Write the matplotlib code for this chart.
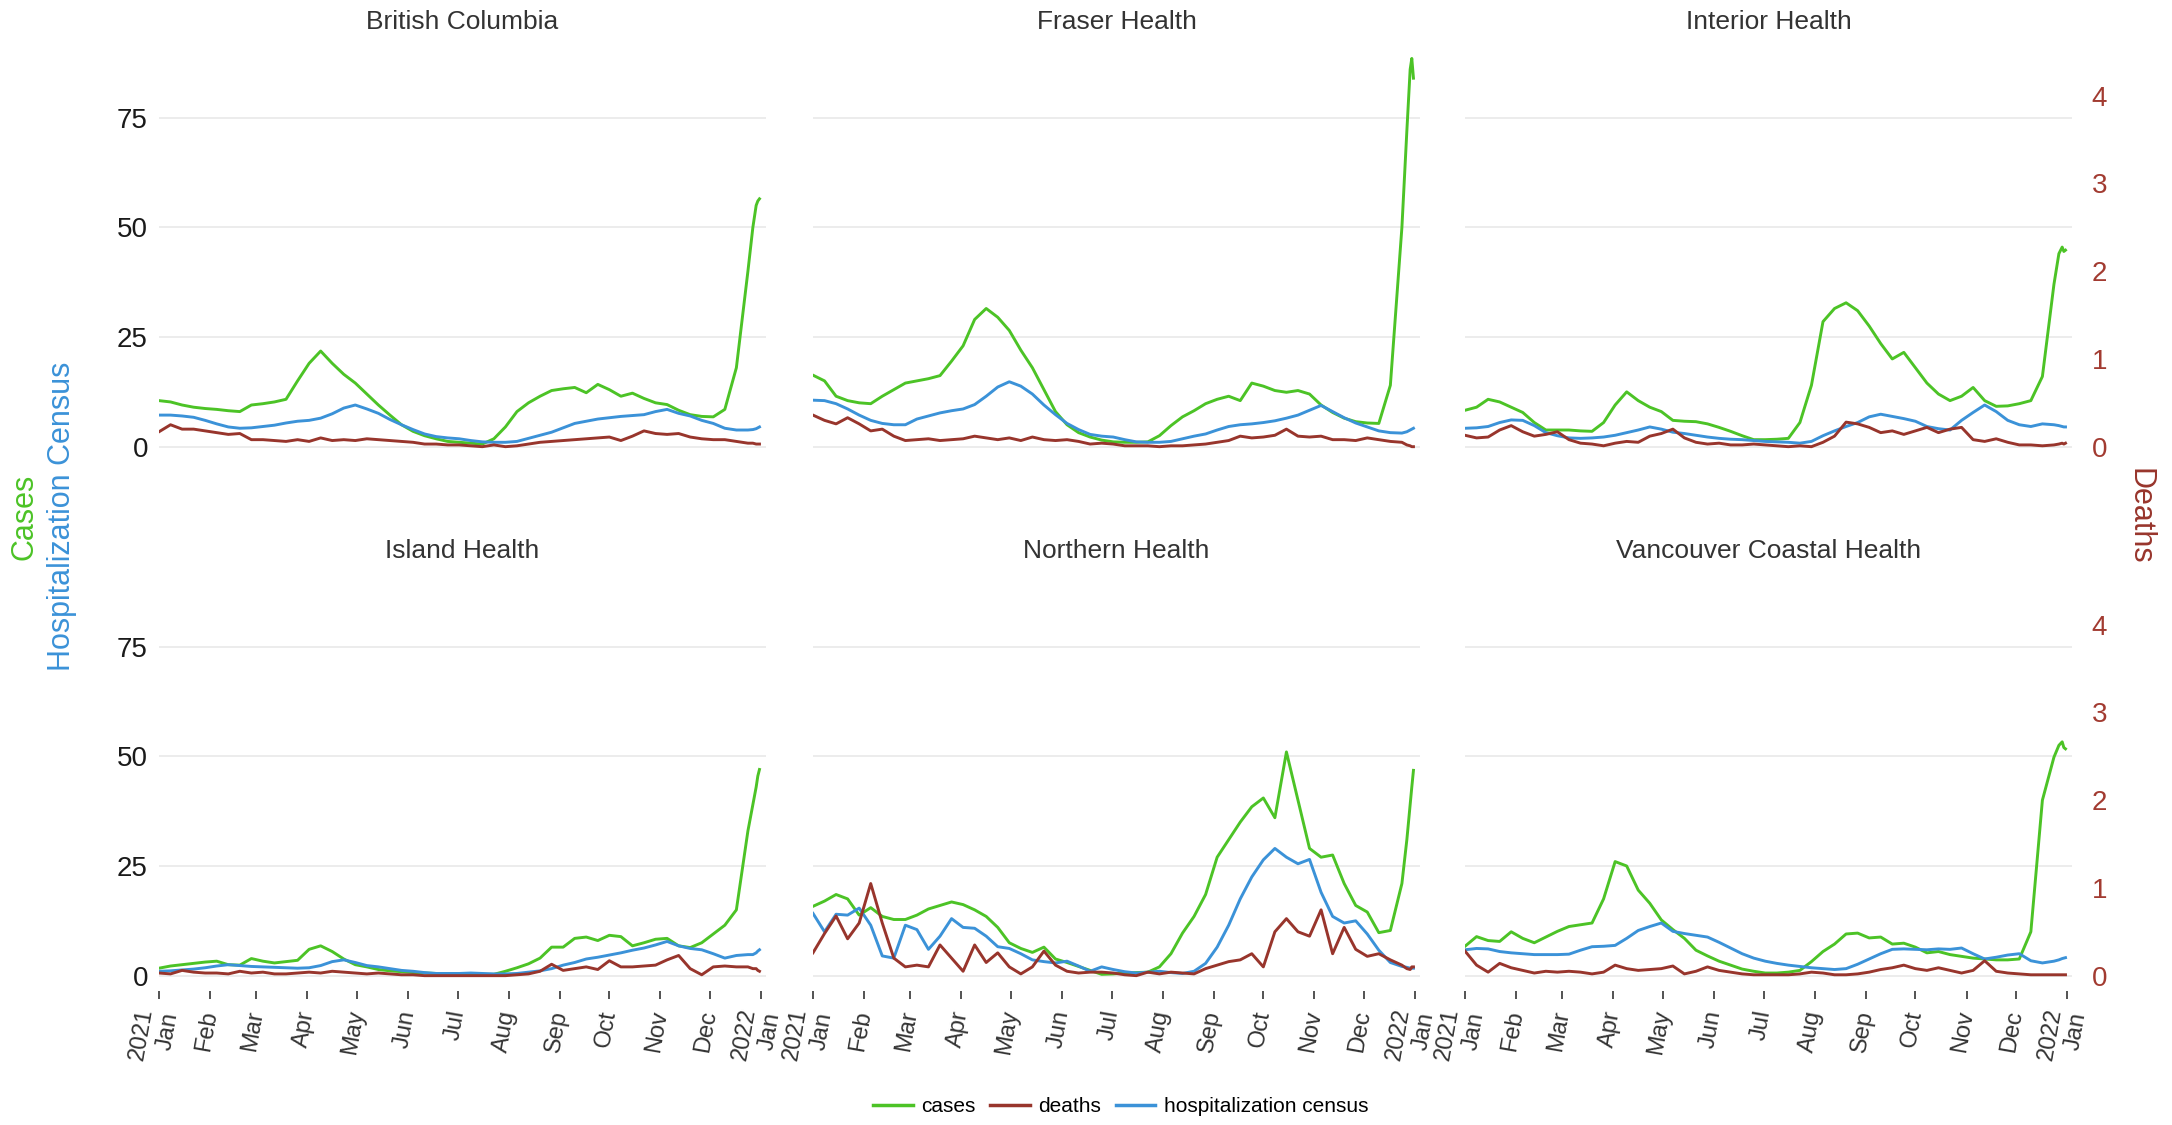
import matplotlib
matplotlib.use("Agg")
import matplotlib.pyplot as plt
import matplotlib.dates as mdates
from matplotlib.lines import Line2D
import numpy as np
import pandas as pd

plt.rcParams['font.family'] = ['Liberation Sans', 'DejaVu Sans']

# weekly points up to Dec 24, then a few daily points for the year-end surge
dates = pd.date_range("2021-01-01", "2021-12-24", freq="7D").append(
    pd.to_datetime(["2021-12-27", "2021-12-29", "2021-12-30", "2021-12-31"]))

regions = ["British Columbia", "Fraser Health", "Interior Health",
           "Island Health", "Northern Health", "Vancouver Coastal Health"]

bc_cases = [10.5, 10.2, 9.5, 9.0, 8.7, 8.5, 8.2,
            8.0, 9.5, 9.8, 10.2, 10.8, 15.0, 19.0,
            21.8, 19.0, 16.5, 14.5, 12.0, 9.5, 7.2,
            5.0, 3.5, 2.5, 1.8, 1.2, 1.0, 0.8,
            0.6, 1.8, 4.5, 8.0, 10.0, 11.5, 12.8,
            13.2, 13.5, 12.3, 14.2, 13.0, 11.5, 12.2,
            11.0, 10.0, 9.6, 8.3, 7.3, 6.9, 6.8,
            8.5, 18.0, 40.0, 50.0, 55.0, 56.0, 56.5]
bc_hosp = [7.2, 7.2, 7.0, 6.7, 6.0, 5.2, 4.5,
           4.2, 4.3, 4.6, 4.9, 5.4, 5.8, 6.0,
           6.5, 7.5, 8.8, 9.5, 8.6, 7.6, 6.2,
           5.0, 3.9, 2.9, 2.3, 2.0, 1.8, 1.4,
           1.1, 1.0, 1.0, 1.2, 1.9, 2.6, 3.3,
           4.3, 5.3, 5.8, 6.3, 6.6, 6.9, 7.1,
           7.3, 8.0, 8.5, 7.6, 7.0, 6.0, 5.3,
           4.2, 3.8, 3.8, 3.9, 4.1, 4.3, 4.5]
bc_deaths = [0.17, 0.25, 0.2, 0.2, 0.18, 0.16, 0.14,
             0.15, 0.08, 0.08, 0.07, 0.06, 0.08, 0.06,
             0.1, 0.07, 0.08, 0.07, 0.09, 0.08, 0.07,
             0.06, 0.05, 0.03, 0.03, 0.02, 0.02, 0.01,
             0.0, 0.02, 0.0, 0.01, 0.03, 0.05, 0.06,
             0.07, 0.08, 0.09, 0.1, 0.11, 0.07, 0.12,
             0.18, 0.15, 0.14, 0.15, 0.11, 0.09, 0.08,
             0.08, 0.06, 0.04, 0.04, 0.03, 0.03, 0.03]

fh_cases = [16.3, 15.0, 11.5, 10.5, 10.0, 9.8, 11.5,
            13.0, 14.5, 15.0, 15.5, 16.2, 19.5, 23.0,
            29.0, 31.5, 29.5, 26.5, 22.0, 18.0, 13.0,
            8.0, 5.0, 3.2, 2.2, 1.5, 1.1, 1.0,
            1.0, 1.1, 2.5, 4.8, 6.8, 8.2, 9.8,
            10.8, 11.5, 10.5, 14.5, 13.8, 12.8, 12.4,
            12.8, 12.0, 9.5, 7.8, 6.5, 5.7, 5.4,
            5.3, 14.0, 50.0, 72.0, 86.0, 88.5, 84.0]
fh_hosp = [10.6, 10.5, 9.8, 8.6, 7.2, 6.0, 5.3,
           5.0, 5.0, 6.3, 7.0, 7.7, 8.2, 8.6,
           9.6, 11.5, 13.6, 14.8, 13.8, 12.0, 9.5,
           7.3, 5.3, 3.9, 2.8, 2.4, 2.2, 1.6,
           1.1, 1.0, 1.0, 1.2, 1.8, 2.4, 2.9,
           3.8, 4.6, 5.0, 5.2, 5.5, 5.9, 6.5,
           7.2, 8.3, 9.4, 8.0, 6.6, 5.4, 4.5,
           3.6, 3.2, 3.1, 3.4, 3.8, 4.0, 4.2]
fh_deaths = [0.36, 0.3, 0.26, 0.33, 0.26, 0.18, 0.2,
             0.12, 0.07, 0.08, 0.09, 0.07, 0.08, 0.09,
             0.12, 0.1, 0.08, 0.1, 0.07, 0.11, 0.08,
             0.07, 0.08, 0.06, 0.03, 0.04, 0.03, 0.01,
             0.01, 0.01, 0.0, 0.01, 0.01, 0.02, 0.03,
             0.05, 0.07, 0.12, 0.1, 0.11, 0.13, 0.2,
             0.12, 0.11, 0.12, 0.08, 0.08, 0.07, 0.1,
             0.08, 0.06, 0.05, 0.02, 0.01, 0.0, 0.0]

ih_cases = [8.3, 9.0, 10.8, 10.2, 9.0, 7.8, 5.5,
            3.8, 3.8, 3.8, 3.6, 3.5, 5.5, 9.5,
            12.5, 10.5, 9.0, 8.0, 6.0, 5.8, 5.7,
            5.2, 4.4, 3.5, 2.5, 1.6, 1.6, 1.7,
            1.9, 5.5, 14.0, 28.5, 31.5, 32.8, 31.0,
            27.5, 23.5, 20.0, 21.5, 18.0, 14.5, 12.0,
            10.5, 11.5, 13.5, 10.5, 9.2, 9.3, 9.8,
            10.5, 16.0, 37.0, 44.0, 45.5, 44.5, 44.8]
ih_hosp = [4.2, 4.3, 4.6, 5.5, 6.1, 6.0, 4.8,
           3.2, 2.5, 2.0, 1.9, 2.0, 2.2, 2.6,
           3.2, 3.8, 4.5, 4.0, 3.3, 3.0, 2.6,
           2.2, 1.9, 1.7, 1.6, 1.4, 1.2, 1.1,
           1.0, 0.8, 1.2, 2.5, 3.6, 4.6, 5.5,
           6.8, 7.4, 6.9, 6.4, 5.8, 4.6, 4.1,
           3.8, 6.0, 7.8, 9.5, 8.0, 6.0, 5.0,
           4.6, 5.2, 5.0, 4.8, 4.6, 4.5, 4.5]
ih_deaths = [0.13, 0.1, 0.11, 0.19, 0.24, 0.17, 0.12,
             0.14, 0.17, 0.08, 0.04, 0.03, 0.01, 0.04,
             0.06, 0.05, 0.12, 0.15, 0.2, 0.1, 0.05,
             0.03, 0.04, 0.02, 0.02, 0.03, 0.02, 0.01,
             0.0, 0.01, 0.0, 0.05, 0.12, 0.28, 0.26,
             0.22, 0.16, 0.18, 0.14, 0.18, 0.22, 0.16,
             0.2, 0.22, 0.08, 0.06, 0.09, 0.05, 0.02,
             0.02, 0.01, 0.02, 0.03, 0.04, 0.03, 0.04]

is_cases = [1.7, 2.2, 2.5, 2.8, 3.1, 3.3, 2.5,
            2.4, 3.9, 3.3, 2.9, 3.2, 3.5, 6.0,
            6.8, 5.5, 3.8, 2.5, 2.0, 1.4, 1.1,
            0.9, 0.7, 0.6, 0.5, 0.5, 0.4, 0.3,
            0.3, 0.3, 1.0, 1.8, 2.7, 4.0, 6.5,
            6.5, 8.5, 8.8, 8.0, 9.2, 8.9, 6.8,
            7.5, 8.3, 8.5, 6.8, 6.4, 7.5, 9.5,
            11.5, 15.0, 33.0, 39.0, 43.0, 45.5, 47.0]
is_hosp = [1.0, 1.1, 1.3, 1.5, 1.8, 2.2, 2.5,
           2.3, 2.1, 2.0, 1.9, 1.8, 1.7, 1.8,
           2.3, 3.2, 3.6, 3.0, 2.3, 2.0, 1.6,
           1.2, 1.0, 0.7, 0.5, 0.5, 0.5, 0.6,
           0.5, 0.4, 0.4, 0.5, 0.8, 1.1, 1.6,
           2.4, 3.0, 3.8, 4.2, 4.7, 5.2, 5.8,
           6.3, 7.0, 7.8, 6.8, 6.2, 5.9, 5.0,
           4.0, 4.6, 4.8, 4.8, 5.2, 5.6, 5.9]
is_deaths = [0.03, 0.02, 0.06, 0.04, 0.03, 0.03, 0.02,
             0.05, 0.03, 0.04, 0.02, 0.02, 0.03, 0.04,
             0.03, 0.05, 0.04, 0.03, 0.02, 0.03, 0.02,
             0.01, 0.01, 0.0, 0.0, 0.0, 0.0, 0.0,
             0.0, 0.0, 0.0, 0.01, 0.02, 0.05, 0.13,
             0.06, 0.08, 0.1, 0.07, 0.17, 0.1, 0.1,
             0.11, 0.12, 0.18, 0.23, 0.08, 0.01, 0.1,
             0.11, 0.1, 0.1, 0.08, 0.08, 0.06, 0.05]

nh_cases = [15.8, 17.0, 18.5, 17.5, 13.8, 15.5, 13.5,
            12.8, 12.8, 13.8, 15.2, 16.0, 16.8, 16.2,
            15.0, 13.5, 11.0, 7.5, 6.2, 5.3, 6.5,
            3.8, 3.0, 2.1, 1.2, 0.3, 0.4, 0.6,
            0.7, 0.8, 2.0, 5.0, 9.7, 13.5, 18.5,
            27.0, 31.0, 35.0, 38.5, 40.5, 36.0, 51.0,
            40.0, 29.0, 27.0, 27.5, 21.0, 16.0, 14.5,
            9.8, 10.3, 21.0, 31.0, 39.0, 43.0, 46.8]
nh_hosp = [14.2, 10.0, 14.0, 13.8, 15.4, 11.5, 4.5,
           4.0, 11.5, 10.5, 6.0, 9.0, 13.0, 11.0,
           10.8, 9.0, 6.6, 6.2, 5.0, 3.6, 3.2,
           2.9, 3.3, 2.2, 1.0, 2.0, 1.4, 0.9,
           0.6, 0.8, 1.0, 0.7, 0.5, 1.0, 2.8,
           6.5, 11.5, 17.5, 22.5, 26.4, 29.0, 27.0,
           25.5, 26.5, 19.0, 13.5, 12.0, 12.5, 9.5,
           5.8, 3.0, 2.1, 1.9, 1.7, 1.7, 1.7]
nh_deaths = [0.26, 0.48, 0.68, 0.42, 0.6, 1.05, 0.6,
             0.2, 0.1, 0.12, 0.1, 0.35, 0.2, 0.05,
             0.35, 0.15, 0.26, 0.1, 0.02, 0.1, 0.28,
             0.12, 0.05, 0.03, 0.04, 0.04, 0.03, 0.01,
             0.0, 0.04, 0.02, 0.04, 0.03, 0.02, 0.08,
             0.12, 0.16, 0.18, 0.25, 0.1, 0.5, 0.65,
             0.5, 0.45, 0.75, 0.25, 0.55, 0.3, 0.22,
             0.25, 0.18, 0.12, 0.08, 0.07, 0.1, 0.1]

vch_cases = [6.7, 8.9, 8.0, 7.8, 10.0, 8.5, 7.5,
             8.8, 10.1, 11.2, 11.6, 12.0, 17.5, 26.0,
             25.0, 19.5, 16.5, 12.7, 10.5, 8.5, 5.8,
             4.5, 3.3, 2.4, 1.5, 1.0, 0.6, 0.6,
             0.8, 1.2, 3.2, 5.5, 7.2, 9.5, 9.7,
             8.6, 8.8, 7.2, 7.4, 6.5, 5.2, 5.5,
             4.8, 4.4, 4.0, 3.8, 3.6, 3.6, 3.8,
             10.0, 40.0, 49.8, 52.5, 53.3, 52.0, 51.7]
vch_hosp = [5.9, 6.2, 6.1, 5.5, 5.2, 5.0, 4.8,
            4.8, 4.8, 4.9, 5.8, 6.6, 6.7, 6.9,
            8.5, 10.3, 11.2, 12.0, 10.1, 9.6, 9.2,
            8.8, 7.6, 6.3, 5.0, 4.0, 3.3, 2.8,
            2.4, 2.1, 1.8, 1.6, 1.4, 1.6, 2.6,
            3.8, 5.0, 6.0, 6.1, 6.0, 5.9, 6.1,
            6.0, 6.3, 5.0, 3.8, 4.2, 4.7, 5.0,
            3.4, 2.9, 3.3, 3.6, 3.9, 4.0, 4.1]
vch_deaths = [0.28, 0.12, 0.04, 0.14, 0.09, 0.06, 0.03,
              0.05, 0.04, 0.05, 0.04, 0.02, 0.04, 0.12,
              0.08, 0.06, 0.07, 0.08, 0.11, 0.02, 0.05,
              0.1, 0.06, 0.04, 0.02, 0.01, 0.01, 0.01,
              0.01, 0.02, 0.04, 0.03, 0.01, 0.01, 0.02,
              0.04, 0.07, 0.09, 0.12, 0.08, 0.06, 0.09,
              0.06, 0.03, 0.06, 0.17, 0.05, 0.03, 0.02,
              0.01, 0.01, 0.01, 0.01, 0.01, 0.01, 0.01]

cases = [bc_cases, fh_cases, ih_cases, is_cases, nh_cases, vch_cases]
hosp = [bc_hosp, fh_hosp, ih_hosp, is_hosp, nh_hosp, vch_hosp]
deaths = [bc_deaths, fh_deaths, ih_deaths, is_deaths, nh_deaths, vch_deaths]

GREEN = "#4cc326"
BROWN = "#98352c"
BLUE = "#3b92d8"
RIGHT_TXT = "#a23b31"

month_ticks = pd.date_range("2021-01-01", "2022-01-01", freq="MS")
month_labels = ["2021\nJan"] + [d.strftime("%b") for d in month_ticks[1:-1]] + ["2022\nJan"]

fig = plt.figure(figsize=(21.72, 11.25), dpi=100)
lefts = [0.0732, 0.3743, 0.6745]
bottoms = [0.5893, 0.1191]
w, h = 0.2795, 0.3724
ratio = 20  # deaths axis scale relative to cases axis
ylo, yhi = -3.5, 92

for i, name in enumerate(regions):
    r, c = divmod(i, 3)
    ax = fig.add_axes([lefts[c], bottoms[r], w, h])
    ax2 = ax.twinx()

    ax.plot(dates, cases[i], color=GREEN, lw=2.1)
    ax2.plot(dates, deaths[i], color=BROWN, lw=2.1)
    ax.plot(dates, hosp[i], color=BLUE, lw=2.1)

    ax.set_xlim(pd.Timestamp("2021-01-01"), pd.Timestamp("2022-01-04"))
    ax.set_ylim(ylo, yhi)
    ax2.set_ylim(ylo / ratio, yhi / ratio)

    for a in (ax, ax2):
        for s in a.spines.values():
            s.set_visible(False)

    ax.set_yticks([0, 25, 50, 75])
    ax.yaxis.grid(True, color="#ebebeb", lw=1.3)
    ax.set_axisbelow(True)
    ax.tick_params(axis="y", length=0, labelsize=20, colors="#1a1a1a", pad=8,
                   labelleft=(c == 0))
    ax2.set_yticks([0, 1, 2, 3, 4])
    ax2.tick_params(axis="y", length=0, labelsize=20, colors=RIGHT_TXT, pad=14,
                    labelright=(c == 2))

    ax.set_xticks(month_ticks)
    if r == 1:
        ax.set_xticklabels(month_labels, rotation=80, ha="right", va="center",
                           rotation_mode="anchor", fontsize=17, color="#333333")
        ax.tick_params(axis="x", length=6, width=1.3, color="#444444", pad=8)
    else:
        ax.tick_params(axis="x", length=0, labelbottom=False)

    ax.set_title(name, fontsize=19, color="#333333", pad=10)

fig.text(0.0115, 0.541, "Cases", rotation=90, color=GREEN, fontsize=22,
         ha="center", va="center")
fig.text(0.0285, 0.541, "Hospitalization Census", rotation=90, color=BLUE,
         fontsize=22, ha="center", va="center")
fig.text(0.985, 0.541, "Deaths", rotation=270, color=BROWN, fontsize=22,
         ha="center", va="center")

handles = [Line2D([], [], color=GREEN, lw=2.5),
           Line2D([], [], color=BROWN, lw=2.5),
           Line2D([], [], color=BLUE, lw=2.5)]
fig.legend(handles, ["cases", "deaths", "hospitalization census"], loc="center",
           bbox_to_anchor=(0.516, 0.016), ncol=3, frameon=False, fontsize=15,
           handlelength=1.9, handletextpad=0.4, columnspacing=0.7)

fig.savefig("out.png", dpi=100, facecolor="white")
